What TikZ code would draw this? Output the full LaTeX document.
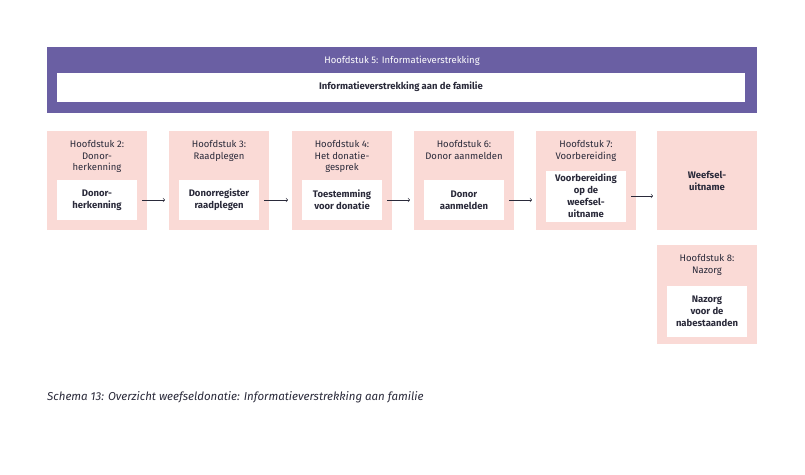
\documentclass[tikz,border=0pt]{standalone}
\usepackage{fontspec}
\setmainfont{Fira Sans}
\begin{document}
\begin{tikzpicture}[x=1pt,y=-1pt,
  pinkbox/.style={fill=pinkc,draw=none,minimum width=100pt,minimum height=99pt,anchor=north west,inner sep=0pt},
  whitebox/.style={fill=white,draw=none,minimum width=80pt,align=center,font=\fontsize{9.5}{12}\selectfont\bfseries,text=darkc,inner sep=2pt},
  head/.style={align=center,font=\fontsize{9.5}{11.5}\selectfont,text=darkc,anchor=north},
  arr/.style={->,draw=darkc,line width=0.6pt,shorten <=5pt,shorten >=4pt}]
\definecolor{pinkc}{HTML}{FADAD6}
\definecolor{purplec}{HTML}{6A5FA3}
\definecolor{darkc}{HTML}{2A2A3A}
\useasboundingbox (0,0) rectangle (805,474);
\fill[white] (0,0) rectangle (805,474);
\node[fill=purplec,minimum width=710pt,minimum height=66pt,anchor=north west,inner sep=0pt] (ban) at (47,47) {};
\node[text=white,font=\fontsize{9.5}{11.5}\selectfont] (bant) at (402,61) {Hoofdstuk 5: Informatieverstrekking};
\node[fill=white,minimum width=688pt,minimum height=29pt,font=\fontsize{9.5}{12}\selectfont\bfseries,text=darkc] (banw) at (401,87) {Informatieverstrekking aan de familie};
% pink boxes
\node[pinkbox] (p1) at (47,131) {};
\node[pinkbox] (p2) at (169,131) {};
\node[pinkbox] (p3) at (292,131) {};
\node[pinkbox] (p4) at (414,131) {};
\node[pinkbox] (p5) at (536,131) {};
\node[pinkbox] (p6) at (657,131) {};
\node[pinkbox] (p8) at (657,245) {};
\node[head] (h1) at (97,137) {Hoofdstuk 2:\\Donor-\\herkenning};
\node[head] (h2) at (219,137) {Hoofdstuk 3:\\Raadplegen};
\node[head] (h3) at (342,137) {Hoofdstuk 4:\\Het donatie-\\gesprek};
\node[head] (h4) at (464,137) {Hoofdstuk 6:\\Donor aanmelden};
\node[head] (h5) at (586,137) {Hoofdstuk 7:\\Voorbereiding};
\node[head] (h8) at (707,251) {Hoofdstuk 8:\\Nazorg};
\node[whitebox,minimum height=40pt] (w1) at (97,200) {Donor-\\herkenning};
\node[whitebox,minimum height=40pt] (w2) at (219,200) {Donorregister\\raadplegen};
\node[whitebox,minimum height=40pt] (w3) at (342,200) {Toestemming\\voor donatie};
\node[whitebox,minimum height=40pt] (w4) at (464,200) {Donor\\aanmelden};
\node[whitebox,minimum height=51pt] (w5) at (586,196) {Voorbereiding\\op de\\weefsel-\\uitname};
\node[font=\fontsize{9.5}{12}\selectfont\bfseries,text=darkc,align=center] (w6) at (707,181) {Weefsel-\\uitname};
\node[whitebox,minimum height=51pt] (w8) at (707,311) {Nazorg\\voor de\\nabestaanden};
\draw[arr] (w1.east) -- (w1.east -| p2.west);
\draw[arr] (w2.east) -- (w2.east -| p3.west);
\draw[arr] (w3.east) -- (w3.east -| p4.west);
\draw[arr] (w4.east) -- (w4.east -| p5.west);
\draw[arr] (w5.east) -- (w5.east -| p6.west);
\node[anchor=west,font=\fontsize{11.5}{13}\selectfont\itshape,text=darkc,inner sep=0pt] (cap) at (47,397) {Schema 13: Overzicht weefseldonatie: Informatieverstrekking aan familie};
\end{tikzpicture}
\end{document}
